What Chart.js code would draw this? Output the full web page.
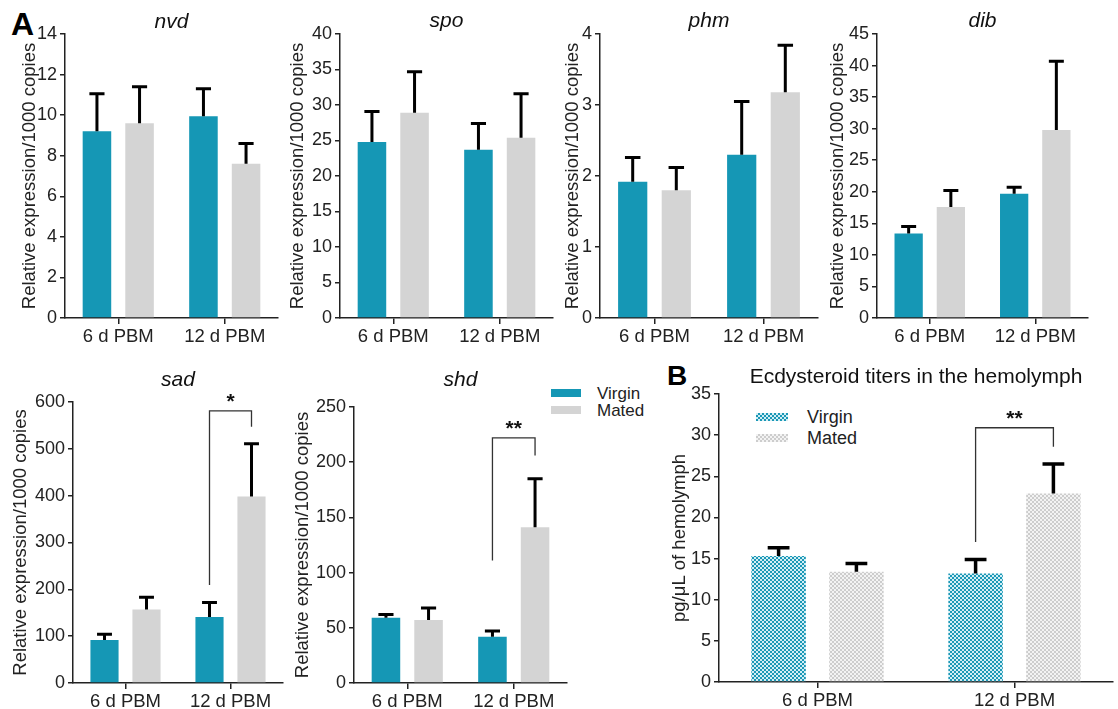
<!DOCTYPE html>
<html lang="en">
<head>
<meta charset="UTF-8" />
<title>Ecdysteroidogenic gene expression and ecdysteroid titers</title>
<script src="https://cdn.jsdelivr.net/npm/chart.js@4.4.0/dist/chart.umd.min.js"></script>
<style>
  body { margin: 0; width: 1118px; height: 709px; background: #fff; position: relative; overflow: hidden;
         font-family: "Liberation Sans", Arial, sans-serif; color: #222; }
  canvas { position: absolute; }
  .panel { position: absolute; font-weight: bold; color: #000; line-height: 1; }
  .key { position: absolute; font-size: 17px; line-height: 1; }
  .sw { position: absolute; }
</style>
</head>
<body>
<div class="panel" style="left:11px; top:8px; font-size:32px;">A</div>
<div class="panel" style="left:667px; top:362px; font-size:28px;">B</div>

<!-- legend for panel A -->
<div class="sw" style="left:551px; top:389px; width:30px; height:8px; background:#1597b5;"></div>
<div class="sw" style="left:551px; top:406px; width:30px; height:8px; background:#d4d4d4;"></div>
<div class="key" style="left:597px; top:385px;">Virgin</div>
<div class="key" style="left:597px; top:402px;">Mated</div>

<!-- legend for panel B -->
<div class="sw" style="left:756px; top:413px; width:32px; height:8px;
  background: repeating-conic-gradient(#1b98b6 0 25%, #d3eef5 0 50%) 0 0/4px 4px;"></div>
<div class="sw" style="left:756px; top:434px; width:32px; height:8px;
  background: repeating-conic-gradient(#cdcdcd 0 25%, #f3f3f3 0 50%) 0 0/4px 4px;"></div>
<div class="key" style="left:807px; top:408px; font-size:18px;">Virgin</div>
<div class="key" style="left:807px; top:429px; font-size:18px;">Mated</div>

<script>
const categories = ['6 d PBM', '12 d PBM'];

// means and upper SEM for each gene, [6 d PBM, 12 d PBM]
const nvdVirgin = [9.2, 9.95];   const nvdVirginErr = [1.85, 1.35];
const nvdMated  = [9.6, 7.6];    const nvdMatedErr  = [1.8, 1.0];
const spoVirgin = [24.8, 23.7];  const spoVirginErr = [4.3, 3.7];
const spoMated  = [28.9, 25.4];  const spoMatedErr  = [5.8, 6.2];
const phmVirgin = [1.92, 2.3];   const phmVirginErr = [0.34, 0.75];
const phmMated  = [1.8, 3.18];   const phmMatedErr  = [0.32, 0.66];
const dibVirgin = [13.4, 19.7];  const dibVirginErr = [1.1, 1.0];
const dibMated  = [17.6, 29.8];  const dibMatedErr  = [2.6, 10.9];
const sadVirgin = [92, 141];     const sadVirginErr = [12, 31];
const sadMated  = [157, 398];    const sadMatedErr  = [26, 113];
const shdVirgin = [59, 42];      const shdVirginErr = [3, 5];
const shdMated  = [57, 141];     const shdMatedErr  = [11, 44];
const ecdVirgin = [15.3, 13.2];  const ecdVirginErr = [1.0, 1.7];
const ecdMated  = [13.4, 22.9];  const ecdMatedErr  = [1.0, 3.6];

// y axis max / step
const nvdAxis = [14, 2];
const spoAxis = [40, 5];
const phmAxis = [4, 1];
const dibAxis = [45, 5];
const sadAxis = [600, 100];
const shdAxis = [250, 50];
const ecdAxis = [35, 5];

// significance: category, bracket top, left leg end, right leg end, label
const sadSig = [1, 581, 209, 547, '*'];
const shdSig = [1, 222, 111, 206, '**'];
const ecdSig = [1, 30.9, 17.0, 28.6, '**'];

const teal = '#1597b5';
const grey = '#d4d4d4';
const exprTitle = 'Relative expression/1000 copies';

Chart.defaults.font.family = '"Liberation Sans", Arial, sans-serif';
Chart.defaults.color = '#222';

const marks = {
  id: 'marks',
  afterDatasetsDraw(chart) {
    const o = chart.options.plugins.marks;
    const ctx = chart.ctx, y = chart.scales.y, area = chart.chartArea;
    ctx.save();
    ctx.strokeStyle = '#000';
    ctx.lineWidth = o.lw;
    chart.data.datasets.forEach((ds, i) => {
      chart.getDatasetMeta(i).data.forEach((bar, j) => {
        const top = y.getPixelForValue(ds.data[j] + ds.err[j]);
        const half = bar.width * o.cap / 2;
        ctx.beginPath();
        ctx.moveTo(bar.x, bar.y);
        ctx.lineTo(bar.x, top);
        ctx.moveTo(bar.x - half, top);
        ctx.lineTo(bar.x + half, top);
        ctx.stroke();
      });
    });
    if (o.sig) {
      const [k, hi, lo1, lo2, txt] = o.sig;
      const x1 = chart.getDatasetMeta(0).data[k].x;
      const x2 = chart.getDatasetMeta(1).data[k].x;
      const yt = y.getPixelForValue(hi);
      ctx.strokeStyle = '#333';
      ctx.lineWidth = 1.3;
      ctx.beginPath();
      ctx.moveTo(x1, y.getPixelForValue(lo1));
      ctx.lineTo(x1, yt);
      ctx.lineTo(x2, yt);
      ctx.lineTo(x2, y.getPixelForValue(lo2));
      ctx.stroke();
      ctx.fillStyle = '#111';
      ctx.font = 'bold 21px "Liberation Sans", Arial, sans-serif';
      ctx.textAlign = 'center';
      ctx.textBaseline = 'alphabetic';
      ctx.fillText(txt, (x1 + x2) / 2, yt - 3);
    }
    ctx.fillStyle = '#111';
    ctx.font = o.titleFont;
    ctx.textAlign = 'center';
    ctx.textBaseline = 'alphabetic';
    ctx.fillText(o.title, (area.left + area.right) / 2, area.top - o.gap);
    ctx.restore();
  }
};

function checker(ctx, c1, c2) {
  const pc = document.createElement('canvas');
  pc.width = pc.height = 4;
  const g = pc.getContext('2d');
  g.fillStyle = c2; g.fillRect(0, 0, 4, 4);
  g.fillStyle = c1; g.fillRect(0, 0, 2, 2); g.fillRect(2, 2, 2, 2);
  return ctx.createPattern(pc, 'repeat');
}

function draw(p) {
  const [x0, y0, w, h] = p.box;
  const [l, t, r, b] = p.area;
  const c = document.createElement('canvas');
  c.width = w; c.height = h;
  c.style.left = x0 + 'px'; c.style.top = y0 + 'px';
  document.body.appendChild(c);
  const ctx = c.getContext('2d');
  const fillV = p.hatch ? checker(ctx, '#1b98b6', '#d3eef5') : teal;
  const fillM = p.hatch ? checker(ctx, '#cdcdcd', '#f3f3f3') : grey;
  const axisLine = { color: '#222', width: 1.5 };

  new Chart(c, {
    type: 'bar',
    data: {
      labels: categories,
      datasets: [
        { label: 'Virgin', data: p.v, err: p.ve, backgroundColor: fillV },
        { label: 'Mated', data: p.m, err: p.me, backgroundColor: fillM }
      ]
    },
    options: {
      responsive: false,
      animation: false,
      layout: { padding: { left: 0, top: t - y0, right: x0 + w - r, bottom: 0 } },
      datasets: { bar: { categoryPercentage: p.cat, barPercentage: p.bar } },
      plugins: {
        legend: { display: false },
        tooltip: { enabled: false },
        marks: { title: p.title, titleFont: p.titleFont, gap: p.gap, sig: p.sig, cap: p.capRatio, lw: p.lw }
      },
      scales: {
        x: {
          grid: { offset: false, drawOnChartArea: false, tickLength: 6, color: '#222', lineWidth: 1.5 },
          border: axisLine,
          ticks: { font: { size: 18.5 }, color: '#222', padding: 2, maxRotation: 0 },
          afterFit: s => { s.height = y0 + h - b; }
        },
        y: {
          min: 0, max: p.axis[0],
          ticks: { stepSize: p.axis[1], font: { size: 18 }, color: '#222', padding: 3 },
          grid: { drawOnChartArea: false, tickLength: 5, color: '#222', lineWidth: 1.5 },
          border: axisLine,
          title: { display: true, text: p.yTitle, font: { size: 18.5 }, color: '#222',
                   padding: { top: p.yTitleX - x0 - 11, bottom: 0 } },
          afterFit: s => { s.width = l - x0; }
        }
      }
    },
    plugins: [marks]
  });
}

const gene = 'italic 21px "Liberation Sans", Arial, sans-serif';
const common = { cat: 0.8, bar: 0.67, capRatio: 0.53, lw: 3, titleFont: gene, yTitle: exprTitle };

draw({ ...common, title: 'nvd', v: nvdVirgin, ve: nvdVirginErr, m: nvdMated, me: nvdMatedErr, axis: nvdAxis,
       box: [0, 0, 280, 345], area: [65, 34, 278, 318], yTitleX: 30, gap: 6 });
draw({ ...common, title: 'spo', v: spoVirgin, ve: spoVirginErr, m: spoMated, me: spoMatedErr, axis: spoAxis,
       box: [280, 0, 278, 345], area: [340, 34, 553, 318], yTitleX: 298, gap: 7 });
draw({ ...common, title: 'phm', v: phmVirgin, ve: phmVirginErr, m: phmMated, me: phmMatedErr, axis: phmAxis,
       box: [558, 0, 264, 345], area: [600, 34, 818, 318], yTitleX: 573, gap: 7 });
draw({ ...common, title: 'dib', v: dibVirgin, ve: dibVirginErr, m: dibMated, me: dibMatedErr, axis: dibAxis,
       box: [824, 0, 290, 345], area: [877, 34, 1088, 318], yTitleX: 838, gap: 7 });
draw({ ...common, title: 'sad', v: sadVirgin, ve: sadVirginErr, m: sadMated, me: sadMatedErr, axis: sadAxis,
       box: [0, 345, 290, 364], area: [73, 402, 283, 683], yTitleX: 21, gap: 16, sig: sadSig });
draw({ ...common, title: 'shd', v: shdVirgin, ve: shdVirginErr, m: shdMated, me: shdMatedErr, axis: shdAxis,
       box: [290, 345, 282, 364], area: [354, 407, 567, 683], yTitleX: 303, gap: 21, sig: shdSig });
draw({ title: 'Ecdysteroid titers in the hemolymph', titleFont: '21px "Liberation Sans", Arial, sans-serif',
       yTitle: 'pg/μL of hemolymph', hatch: true, cat: 0.79, bar: 0.7, capRatio: 0.4, lw: 3.5,
       v: ecdVirgin, ve: ecdVirginErr, m: ecdMated, me: ecdMatedErr, axis: ecdAxis,
       box: [660, 345, 458, 364], area: [719, 394, 1113, 682], yTitleX: 680, gap: 11, sig: ecdSig });
</script>
</body>
</html>
